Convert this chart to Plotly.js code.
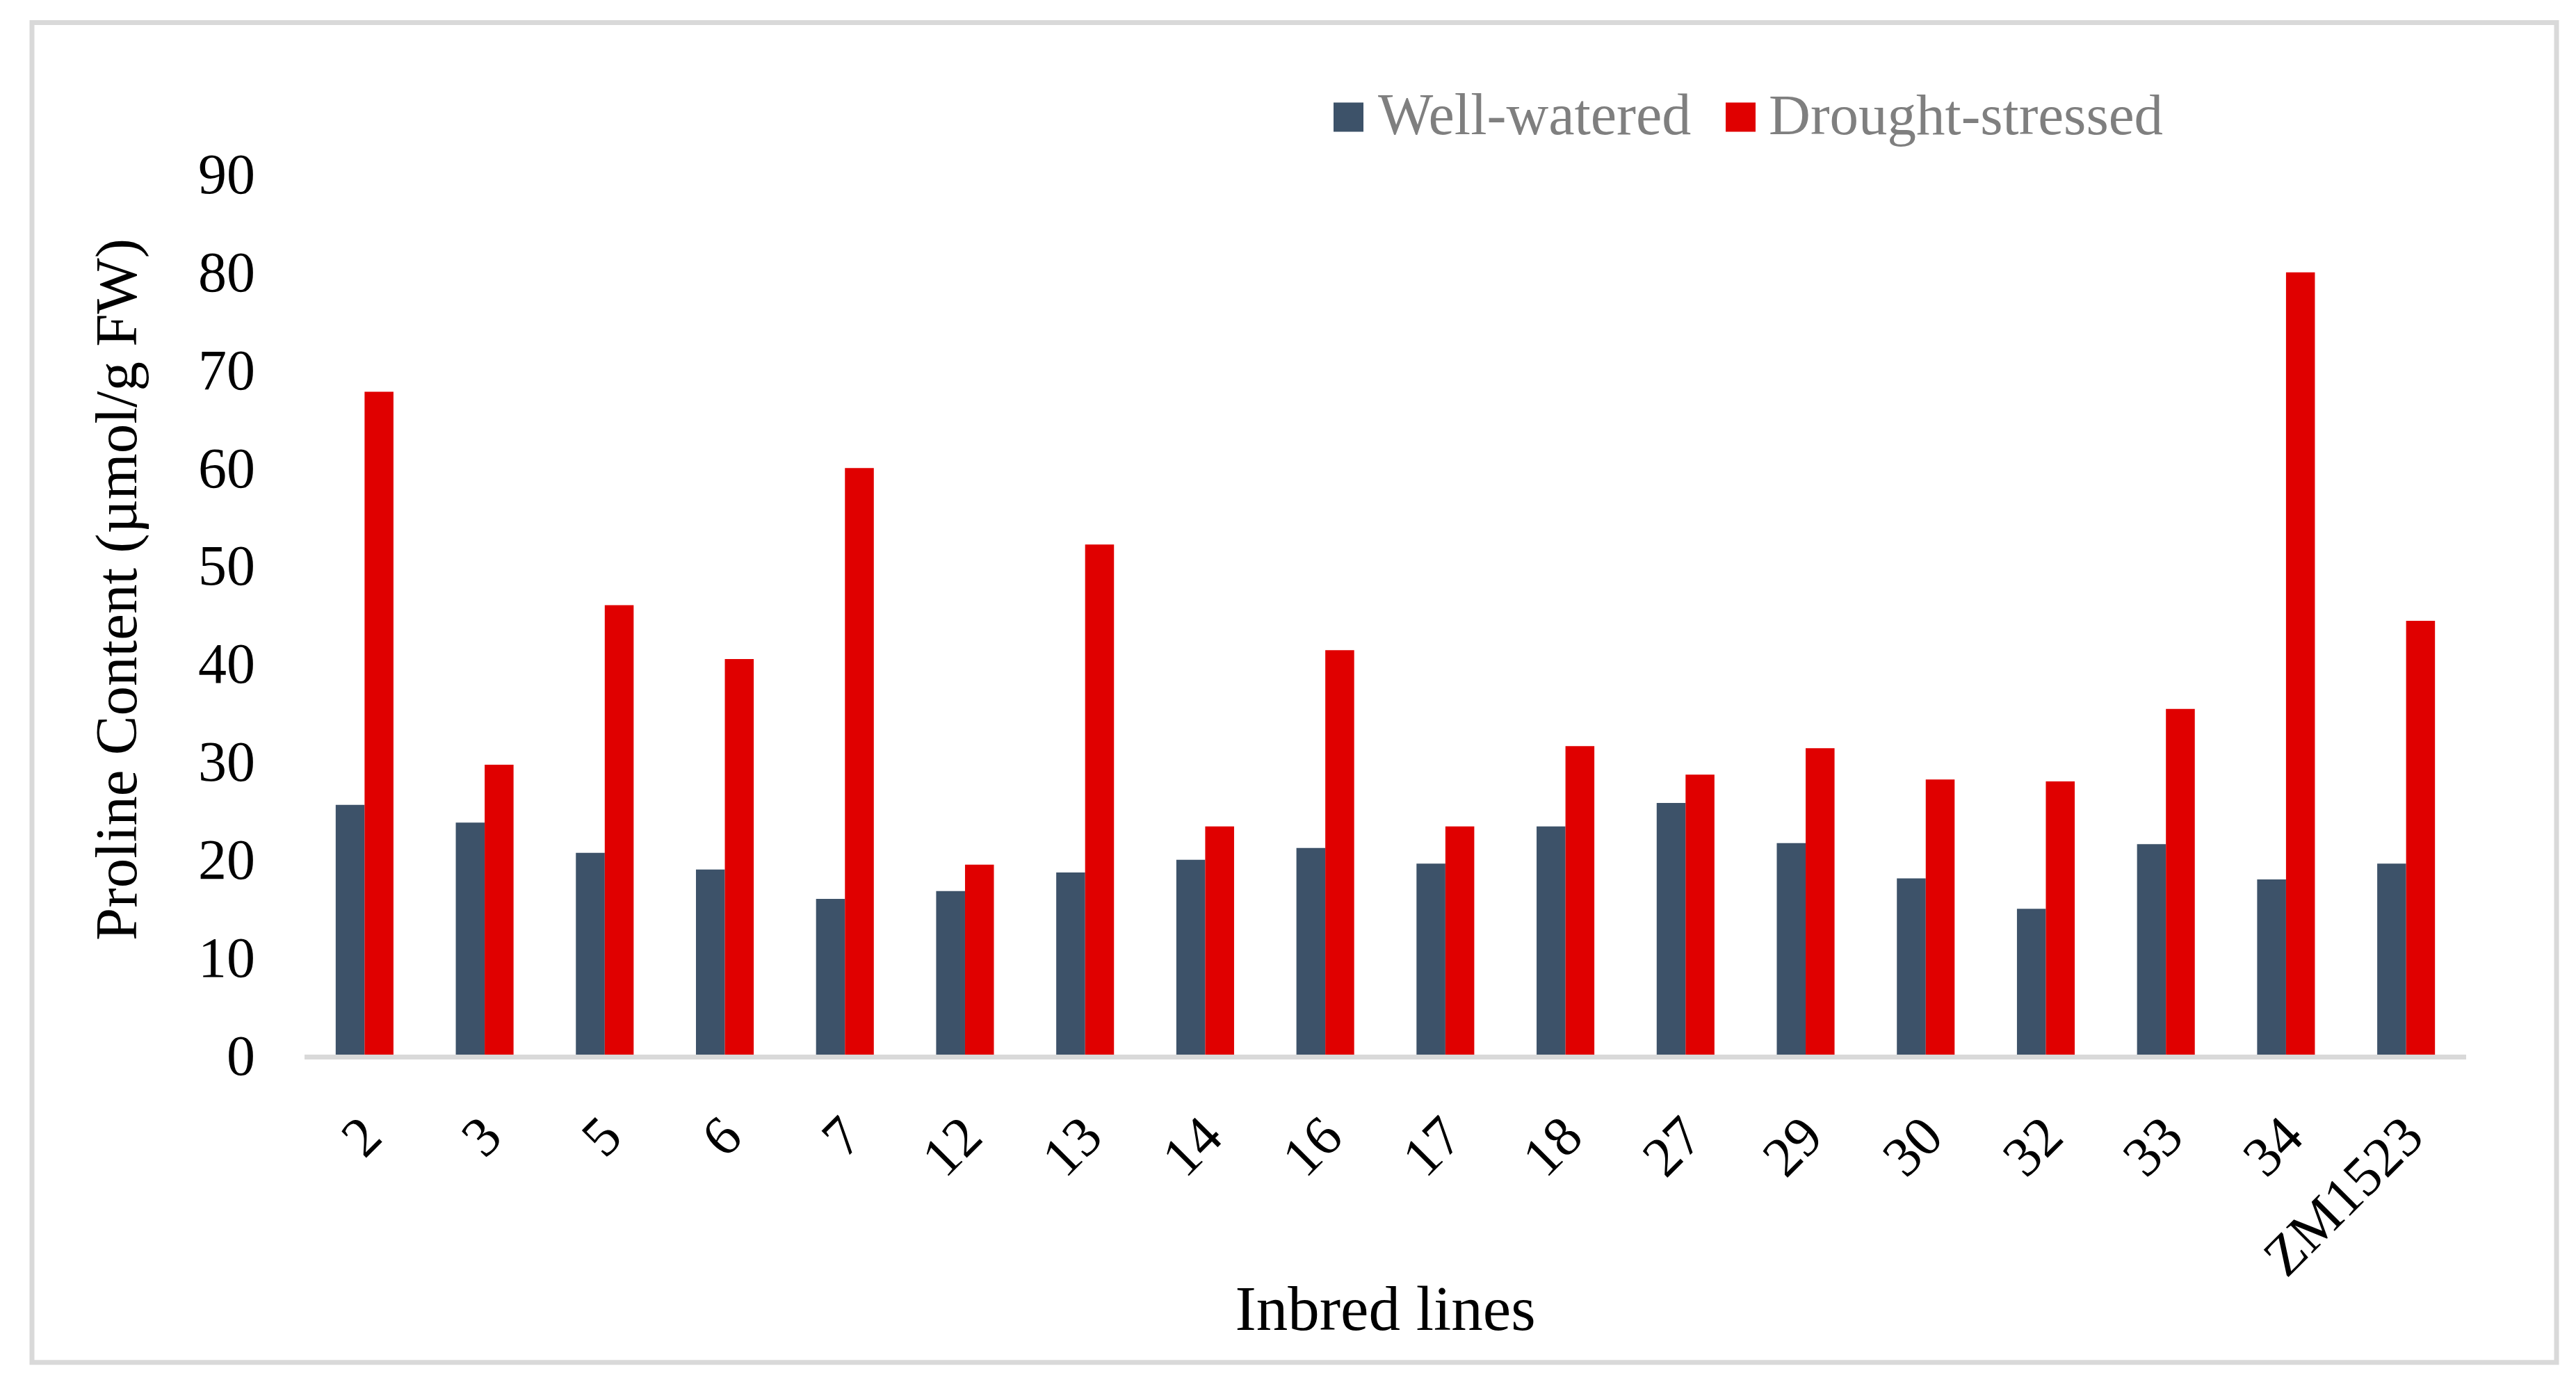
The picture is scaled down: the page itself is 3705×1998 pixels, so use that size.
<!DOCTYPE html>
<html>
<head>
<meta charset="utf-8">
<script src="https://cdn.plot.ly/plotly-3.0.1.min.js"></script>
<style>
  html, body { margin: 0; padding: 0; background: #ffffff; }
  #chart { width: 3705px; height: 1998px; }
</style>
</head>
<body>
<div id="chart"></div>
<script>
// ---- data ----
const categories = ['2', '3', '5', '6', '7', '12', '13', '14', '16', '17', '18', '27', '29', '30', '32', '33', '34', 'ZM1523'];
const wellWatered = [25.5, 23.7, 20.6, 18.9, 15.9, 16.7, 18.6, 19.9, 21.1, 19.5, 23.3, 25.7, 21.6, 18.0, 14.9, 21.5, 17.9, 19.5];
const droughtStressed = [67.7, 29.6, 45.9, 40.4, 59.9, 19.4, 52.1, 23.3, 41.3, 23.3, 31.5, 28.6, 31.3, 28.1, 27.9, 35.3, 79.9, 44.3];
const seriesNames = ['Well-watered', 'Drought-stressed'];
const yTickValues = [0, 10, 20, 30, 40, 50, 60, 70, 80, 90];

// ---- styles ----
const FONT = '"Liberation Serif", "Times New Roman", serif';
const BLUE = '#3d5269';
const RED = '#e00000';
const GRID_GRAY = '#d9d9d9';
const LEGEND_GRAY = '#7f7f7f';

const traces = [
  { type: 'bar', name: seriesNames[0], x: categories, y: wellWatered, marker: { color: BLUE }, showlegend: false },
  { type: 'bar', name: seriesNames[1], x: categories, y: droughtStressed, marker: { color: RED }, showlegend: false }
];

const layout = {
  width: 3705,
  height: 1998,
  margin: { l: 438, r: 158, t: 179, b: 481, pad: 0 },
  paper_bgcolor: '#ffffff',
  plot_bgcolor: '#ffffff',
  font: { family: FONT, color: '#000000', size: 82 },
  barmode: 'group',
  bargap: 0.519,
  bargroupgap: 0,
  showlegend: false,
  xaxis: {
    type: 'category',
    showline: true,
    linecolor: GRID_GRAY,
    linewidth: 7,
    showgrid: false,
    zeroline: false,
    ticks: '',
    tickangle: -45,
    ticklabelstandoff: 30,
    tickfont: { family: FONT, size: 81, color: '#000000' },
    title: { text: 'Inbred lines', font: { family: FONT, size: 91, color: '#000000' }, standoff: 0 },
    automargin: false
  },
  yaxis: {
    range: [0, 95],
    tickvals: yTickValues,
    ticktext: yTickValues.map(String),
    showline: false,
    showgrid: false,
    zeroline: false,
    ticks: '',
    ticklabelstandoff: 70,
    tickfont: { family: FONT, size: 82, color: '#000000' },
    title: { text: 'Proline Content (µmol/g FW)', font: { family: FONT, size: 85, color: '#000000' }, standoff: 60 },
    automargin: false
  },
  shapes: [
    // outer chart frame
    { type: 'rect', xref: 'paper', yref: 'paper', x0: -0.12609, x1: 1.04182, y0: -0.33097, y1: 1.10945,
      line: { color: GRID_GRAY, width: 7 }, fillcolor: 'rgba(0,0,0,0)', layer: 'below' },
    // legend swatches
    { type: 'rect', xref: 'paper', yref: 'paper', x0: 0.47604, x1: 0.48987, y0: 0.99216, y1: 1.02353,
      line: { width: 0 }, fillcolor: BLUE },
    { type: 'rect', xref: 'paper', yref: 'paper', x0: 0.65745, x1: 0.67127, y0: 0.99216, y1: 1.02353,
      line: { width: 0 }, fillcolor: RED }
  ],
  annotations: [
    { xref: 'paper', yref: 'paper', x: 0.49598, y: 1.0108, xanchor: 'left', yanchor: 'middle', showarrow: false,
      text: seriesNames[0], font: { family: FONT, size: 84, color: LEGEND_GRAY } },
    { xref: 'paper', yref: 'paper', x: 0.67674, y: 1.0108, xanchor: 'left', yanchor: 'middle', showarrow: false,
      text: seriesNames[1], font: { family: FONT, size: 83, color: LEGEND_GRAY } }
  ]
};

Plotly.newPlot('chart', traces, layout, { staticPlot: true, displayModeBar: false });
</script>
</body>
</html>
